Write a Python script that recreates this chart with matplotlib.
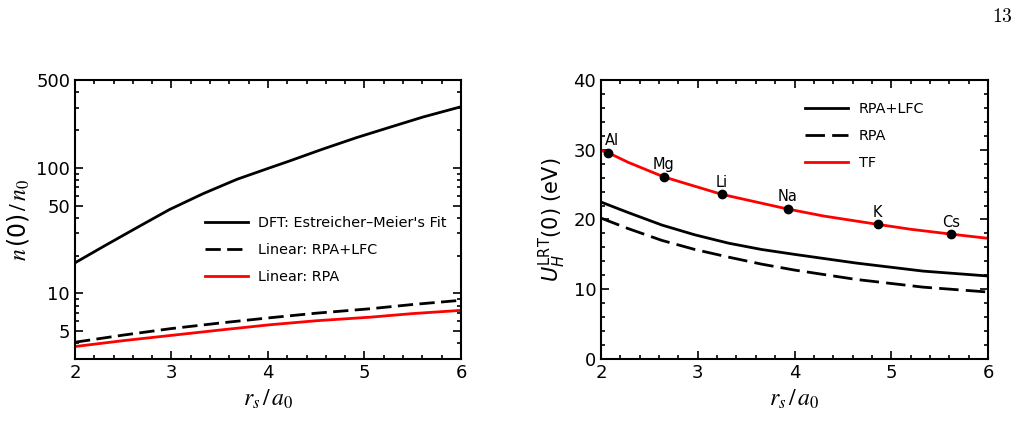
import numpy as np
import matplotlib.pyplot as plt
from matplotlib.ticker import FixedLocator, MultipleLocator, NullFormatter

plt.rcParams['font.family'] = ['DejaVu Sans']
plt.rcParams['mathtext.fontset'] = 'stix'

# left panel: density at the impurity site
rs_dft = [2.0, 2.29, 2.64, 2.98, 3.33, 3.68, 4.02, 4.22, 4.57, 4.92, 5.27, 5.61, 6.0]
n_dft = [17.5, 23.5, 33.3, 46.5, 62.3, 81.0, 100, 113, 141, 174, 211, 254, 306]
rs_lin = [2.0, 2.5, 2.98, 3.5, 4.02, 4.5, 5.06, 5.5, 5.99]
n_rpa_lfc = [4.08, 4.65, 5.22, 5.8, 6.39, 6.95, 7.54, 8.15, 8.79]
n_rpa = [3.77, 4.2, 4.61, 5.1, 5.62, 6.05, 6.46, 6.9, 7.31]

# right panel: hydrogen potential energy
rs_u = [2.0, 2.28, 2.63, 2.97, 3.32, 3.66, 4.0, 4.64, 5.33, 6.0]
u_rpa_lfc = [22.5, 21.0, 19.2, 17.8, 16.6, 15.7, 15.0, 13.75, 12.6, 11.9]
u_rpa = [20.2, 18.7, 17.0, 15.7, 14.6, 13.6, 12.75, 11.4, 10.3, 9.6]
rs_tf = [2.0, 2.07, 2.28, 2.65, 3.25, 3.93, 4.3, 4.86, 5.2, 5.62, 6.0]
u_tf = [29.9, 29.6, 28.2, 26.1, 23.6, 21.5, 20.5, 19.3, 18.6, 17.9, 17.3]

metals = ['Al', 'Mg', 'Li', 'Na', 'K', 'Cs']
rs_metals = [2.07, 2.65, 3.25, 3.93, 4.86, 5.62]
u_metals = [29.6, 26.1, 23.6, 21.5, 19.3, 17.9]

fig = plt.figure(figsize=(10.23, 4.23), dpi=100)
ax1 = fig.add_axes([0.0733, 0.1513, 0.3773, 0.6596])
ax2 = fig.add_axes([0.5875, 0.1513, 0.3783, 0.6596])

ax1.plot(rs_dft, n_dft, color='black', lw=2, label="DFT: Estreicher\u2013Meier's Fit")
ax1.plot(rs_lin, n_rpa_lfc, color='black', lw=2, ls=(0, (5.5, 2.3)), label='Linear: RPA+LFC')
ax1.plot(rs_lin, n_rpa, color='red', lw=2, label='Linear: RPA')
ax1.set_yscale('log')
ax1.set_xlim(2, 6)
ax1.set_ylim(3, 500)
ax1.yaxis.set_major_locator(FixedLocator([5, 10, 50, 100, 500]))
ax1.yaxis.set_major_formatter(plt.FuncFormatter(lambda v, p: '%d' % v))
ax1.yaxis.set_minor_locator(FixedLocator([3, 4, 6, 7, 8, 9, 20, 30, 40, 60, 70, 80, 90, 200, 300, 400]))
ax1.yaxis.set_minor_formatter(NullFormatter())
ax1.xaxis.set_major_locator(MultipleLocator(1))
ax1.xaxis.set_minor_locator(MultipleLocator(0.2))
ax1.set_xlabel(r'$r_s\,/\,a_0$', fontsize=17)
ax1.set_ylabel(r'$n\,$(0)$\,/\,n_0$', fontsize=17)
ax1.legend(loc='center', bbox_to_anchor=(0.65, 0.391), frameon=False, fontsize=10.4,
           handlelength=2.95, handletextpad=0.75, labelspacing=0.9)

ax2.plot(rs_u, u_rpa_lfc, color='black', lw=2, label='RPA+LFC')
ax2.plot(rs_u, u_rpa, color='black', lw=2, ls=(0, (7, 2.6)), label='RPA')
ax2.plot(rs_tf, u_tf, color='red', lw=2, label='TF')
ax2.plot(rs_metals, u_metals, 'o', color='black', ms=6, zorder=5)
for name, x, y in zip(metals, rs_metals, u_metals):
    dx = 3 if name == 'Al' else 0
    ax2.annotate(name, (x, y), xytext=(dx, 5.5), textcoords='offset points',
                 ha='center', va='baseline', fontsize=10.5)
ax2.set_xlim(2, 6)
ax2.set_ylim(0, 40)
ax2.xaxis.set_major_locator(MultipleLocator(1))
ax2.xaxis.set_minor_locator(MultipleLocator(0.2))
ax2.yaxis.set_major_locator(MultipleLocator(10))
ax2.yaxis.set_minor_locator(MultipleLocator(2))
ax2.set_xlabel(r'$r_s\,/\,a_0$', fontsize=17)
ax2.set_ylabel(r'$U_H^{\mathrm{LRT}}$(0) (eV)', fontsize=15, math_fontfamily='dejavusans')
ax2.legend(loc='center', bbox_to_anchor=(0.681, 0.799), frameon=False, fontsize=10.4,
           handlelength=2.95, handletextpad=0.75, labelspacing=0.9)

for ax in (ax1, ax2):
    ax.tick_params(which='both', direction='in', top=True, right=True, labelsize=13, width=1.2)
    ax.tick_params(which='major', length=6)
    ax.tick_params(which='minor', length=3)
    for s in ax.spines.values():
        s.set_linewidth(1.5)

fig.text(0.99, 0.983, '$13$', fontsize=14, math_fontfamily='cm', ha='right', va='top')

fig.savefig('out.png', dpi=100)
